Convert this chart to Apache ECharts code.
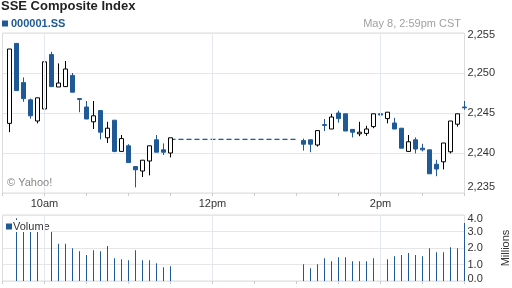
<!DOCTYPE html>
<html>
<head>
<meta charset="utf-8">
<script src="https://cdn.jsdelivr.net/npm/echarts@6/dist/echarts.min.js"></script>
<style>
html,body{margin:0;padding:0;background:#fff;}
#c{width:512px;height:288px;}
</style>
</head>
<body>
<div id="c"></div>
<script>
// ---- data ----
const candleTimes = [
  '09:35','09:40','09:45','09:50','09:55','10:00','10:05','10:10','10:15','10:20','10:25','10:30',
  '10:35','10:40','10:45','10:50','10:55','11:00','11:05','11:10','11:15','11:20','11:25','11:30',
  '13:05','13:10','13:15','13:20','13:25','13:30','13:35','13:40','13:45','13:50','13:55','14:00',
  '14:05','14:10','14:15','14:20','14:25','14:30','14:35','14:40','14:45','14:50','14:55','15:00'
];
// [open, close, low, high]
const candleOHLC = [
  [2243.7, 2253.0, 2242.6, 2253.0],
  [2253.7, 2247.8, 2247.8, 2253.7],
  [2248.8, 2246.8, 2246.4, 2249.45],
  [2246.65, 2244.65, 2244.3, 2246.8],
  [2244.0, 2246.9, 2243.7, 2246.9],
  [2245.5, 2251.4, 2245.5, 2251.4],
  [2252.3, 2248.3, 2248.3, 2252.65],
  [2248.25, 2248.75, 2248.25, 2251.2],
  [2248.3, 2250.5, 2248.3, 2251.5],
  [2249.7, 2247.6, 2247.6, 2250.0],
  [2246.8, 2246.7, 2245.1, 2246.8],
  [2245.75, 2244.25, 2244.25, 2246.5],
  [2243.9, 2244.65, 2243.0, 2246.5],
  [2245.3, 2242.6, 2241.7, 2245.3],
  [2241.9, 2243.1, 2241.25, 2243.9],
  [2244.1, 2240.2, 2240.1, 2244.1],
  [2240.2, 2241.8, 2240.2, 2242.25],
  [2240.9, 2238.8, 2238.8, 2241.1],
  [2238.3, 2237.9, 2235.7, 2238.3],
  [2237.75, 2239.1, 2237.0, 2239.1],
  [2239.0, 2240.9, 2237.2, 2240.9],
  [2241.65, 2240.1, 2240.1, 2242.25],
  [2240.4, 2240.1, 2239.75, 2241.2],
  [2240.0, 2241.9, 2239.45, 2241.9],
  [2241.55, 2241.1, 2240.3, 2241.8],
  [2241.65, 2241.1, 2240.1, 2241.65],
  [2241.0, 2242.8, 2240.8, 2242.8],
  [2243.55, 2243.45, 2242.75, 2244.25],
  [2243.0, 2244.5, 2243.0, 2244.9],
  [2245.0, 2244.3, 2243.8, 2245.3],
  [2244.9, 2242.75, 2242.75, 2244.9],
  [2242.95, 2242.6, 2241.95, 2242.95],
  [2242.4, 2242.6, 2242.1, 2243.9],
  [2242.45, 2243.0, 2242.15, 2243.4],
  [2243.3, 2244.9, 2243.1, 2244.9],
  [2244.9, 2244.75, 2244.75, 2245.65],
  [2244.3, 2245.1, 2243.7, 2245.1],
  [2243.75, 2243.0, 2243.0, 2244.4],
  [2243.1, 2240.6, 2240.6, 2243.1],
  [2240.2, 2241.4, 2240.15, 2242.25],
  [2241.65, 2240.5, 2239.95, 2241.95],
  [2240.6, 2240.4, 2240.2, 2241.15],
  [2240.4, 2237.4, 2237.4, 2240.4],
  [2238.6, 2238.0, 2237.1, 2239.15],
  [2238.9, 2241.25, 2237.95, 2241.25],
  [2240.15, 2244.0, 2239.95, 2244.0],
  [2243.6, 2244.9, 2243.3, 2244.9],
  [2245.75, 2245.65, 2245.4, 2246.5]
];
// volume, millions
const volumes = [
  null, 3.8, 3.3, 3.2, 3.3, 3.1, 3.0, 2.26, 2.26, 1.99, 1.81, 1.57,
  1.87, 1.81, 2.12, 1.38, 1.32, 1.26, 1.87, 1.26, 1.26, 1.08, 0.84, 0.9,
  1.02, 0.77, 1.02, 1.38, 1.2, 1.44, 1.44, 1.2, 1.2, 1.2, 1.38, 1.32,
  1.32, 1.5, 1.57, 1.69, 1.57, 1.5, 1.99, 1.75, 1.75, 2.05, 1.99, 3.52
];
const lunchTimes = ['11:30', '13:00'];
const lunchLevel = 2241.7;
const sessionStart = '09:30';
const sessionEnd = '15:00';
const gridTimes = ['10:00', '12:00', '14:00'];
const xTickLabels = ['10am', '12pm', '2pm'];
const priceTicks = [2235, 2240, 2245, 2250, 2255];
const volumeTicks = [0, 1, 2, 3, 4];

// ---- build ----
const BLUE = '#1f5a96';
const FONT = '"Liberation Sans", Arial, sans-serif';
function toMin(t) { const p = t.split(':'); return (+p[0]) * 60 + (+p[1]); }
const xMin = toMin(sessionStart), xMax = toMin(sessionEnd);
const candleData = candleTimes.map((t, i) => [toMin(t)].concat(candleOHLC[i]));
const volData = candleTimes.map((t, i) => [toMin(t), volumes[i]]).filter(d => d[1] != null);
const lunchData = lunchTimes.map(t => [toMin(t), lunchLevel]);
const labelMap = {};
gridTimes.forEach((t, i) => { labelMap[toMin(t)] = xTickLabels[i]; });
const vLines = gridTimes.map(t => ({ xAxis: toMin(t) }));
function comma(v) { return String(v).replace(/\B(?=(\d{3})+(?!\d))/g, ','); }

const labelStyle = { color: '#333', fontSize: 11, fontFamily: FONT };
const markLineCfg = {
  silent: true, symbol: 'none', animation: false,
  label: { show: false },
  lineStyle: { color: '#e3e8f0', width: 1, type: 'solid' },
  emphasis: { disabled: true },
  data: vLines
};

const chart = echarts.init(document.getElementById('c'), null, { renderer: 'canvas' });
chart.setOption({
  animation: false,
  backgroundColor: '#fff',
  title: [
    { text: 'SSE Composite Index', left: 1, top: 0, padding: 0,
      textStyle: { fontSize: 13, fontWeight: 'bold', color: '#222', fontFamily: FONT } },
    { text: 'May 8, 2:59pm CST', right: 51, top: 18, padding: 0,
      textStyle: { fontSize: 11, fontWeight: 'normal', color: '#a0a0a0', fontFamily: FONT } },
    { text: '\u00a9 Yahoo!', left: 7, top: 177, padding: 0,
      textStyle: { fontSize: 11, fontWeight: 'normal', color: '#888', fontFamily: FONT } }
  ],
  legend: [
    { left: 2, top: 18, padding: 0, icon: 'rect', itemWidth: 6, itemHeight: 6,
      selectedMode: false,
      data: [{ name: '000001.SS', itemStyle: { color: BLUE, borderWidth: 0 } }],
      textStyle: { color: BLUE, fontWeight: 'bold', fontSize: 11, fontFamily: FONT, padding: [0, 0, 0, -2] } },
    { left: 3, top: 220, padding: [1, 2, 0, 3], icon: 'rect', itemWidth: 6, itemHeight: 6,
      backgroundColor: '#fff', selectedMode: false,
      data: [{ name: 'Volume', itemStyle: { color: BLUE, borderWidth: 0 } }],
      textStyle: { color: '#333', fontSize: 11, fontFamily: FONT, padding: [0, 0, 0, -4] } }
  ],
  grid: [
    { left: 2.5, right: 47.5, top: 33, height: 160, show: true, borderColor: '#dcdcdc', borderWidth: 1,
      backgroundColor: 'transparent', outerBoundsMode: 'none', containLabel: false },
    { left: 2.5, right: 47.5, top: 215, height: 66, show: true, borderColor: '#dcdcdc', borderWidth: 1,
      backgroundColor: 'transparent', outerBoundsMode: 'none', containLabel: false }
  ],
  xAxis: [
    { type: 'value', gridIndex: 0, min: xMin, max: xMax, interval: 30,
      axisLine: { show: false },
      axisTick: { show: true, length: 3, lineStyle: { color: '#cccccc' } },
      splitLine: { show: false },
      axisLabel: Object.assign({ margin: 5, showMinLabel: true, showMaxLabel: true,
        formatter: v => labelMap[v] || '' }, labelStyle) },
    { type: 'value', gridIndex: 1, min: xMin, max: xMax, interval: 30,
      axisLine: { show: false },
      axisTick: { show: true, length: 3, lineStyle: { color: '#cccccc' } },
      splitLine: { show: false },
      axisLabel: { show: false } }
  ],
  yAxis: [
    { type: 'value', gridIndex: 0, position: 'right',
      min: priceTicks[0], max: priceTicks[priceTicks.length - 1], interval: 5,
      axisLine: { show: false }, axisTick: { show: false },
      splitLine: { show: true, lineStyle: { color: '#e6e6e6' } },
      axisLabel: Object.assign({ margin: 3,
        formatter: v => v === priceTicks[priceTicks.length - 1] ? '{hi|' + comma(v) + '}'
                      : v === priceTicks[0] ? '{lo|' + comma(v) + '}' : comma(v),
        rich: {
          hi: { fontSize: 11, color: '#333', fontFamily: FONT, padding: [4, 0, 0, 0] },
          lo: { fontSize: 11, color: '#333', fontFamily: FONT, padding: [0, 0, 12, 0] }
        } }, labelStyle) },
    { type: 'value', gridIndex: 1, position: 'right',
      min: volumeTicks[0], max: volumeTicks[volumeTicks.length - 1], interval: 1,
      name: 'Millions', nameLocation: 'middle', nameRotate: 90, nameGap: 36,
      nameTextStyle: { color: '#333', fontSize: 11, fontFamily: FONT },
      axisLine: { show: false }, axisTick: { show: false },
      splitLine: { show: true, lineStyle: { color: '#e6e6e6' } },
      axisLabel: Object.assign({ margin: 3,
        formatter: v => v === volumeTicks[volumeTicks.length - 1] ? '{hi|' + v.toFixed(1) + '}'
                      : v === volumeTicks[0] ? '{lo|' + v.toFixed(1) + '}' : v.toFixed(1),
        rich: {
          hi: { fontSize: 11, color: '#333', fontFamily: FONT, padding: [7, 0, 0, 0] },
          lo: { fontSize: 11, color: '#333', fontFamily: FONT, padding: [0, 0, 5, 0] }
        } }, labelStyle) }
  ],
  series: [
    { name: 'gridlines-main', type: 'line', xAxisIndex: 0, yAxisIndex: 0, z: 1,
      data: lunchData, showSymbol: false, symbol: 'none', silent: true,
      lineStyle: { color: BLUE, width: 1.3, type: [5, 3] },
      markLine: markLineCfg },
    { name: '000001.SS', type: 'candlestick', xAxisIndex: 0, yAxisIndex: 0, z: 2,
      data: candleData, encode: { x: 0, y: [1, 2, 3, 4] },
      barWidth: 4,
      itemStyle: { color: '#ffffff', color0: BLUE, borderColor: '#000000', borderColor0: BLUE, borderWidth: 1 } },
    { name: 'gridlines-vol', type: 'line', xAxisIndex: 1, yAxisIndex: 1, z: 1,
      data: [], symbol: 'none', silent: true, markLine: markLineCfg },
    { name: 'Volume', type: 'bar', xAxisIndex: 1, yAxisIndex: 1, z: 2,
      data: volData, barWidth: 1, itemStyle: { color: BLUE }, silent: true }
  ]
});
</script>
</body>
</html>
